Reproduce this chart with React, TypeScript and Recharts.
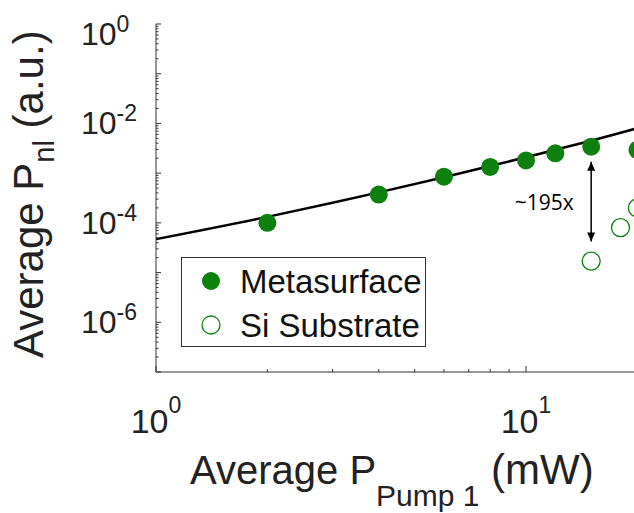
import { ComposedChart, Scatter, Line, XAxis, YAxis, ReferenceDot } from 'recharts'

// x values in mW, y values in a.u.
const metaX = [2, 4, 6, 8, 10, 12, 15, 20]
const metaY = [1.0e-4, 3.7e-4, 8.5e-4, 1.33e-3, 1.8e-3, 2.5e-3, 3.4e-3, 2.95e-3]
const siX = [15, 18, 20]
const siY = [1.7e-5, 8.0e-5, 2.0e-4]
const fitX = [1, 2, 3, 4, 6, 8, 10, 12, 15, 20]
const fitY = [4.7e-5, 1.32e-4, 2.53e-4, 4.1e-4, 8.3e-4, 1.39e-3, 2.09e-3, 2.95e-3, 4.5e-3, 8.0e-3]
const arrowX = [15, 15]
const arrowY = [1.7e-3, 4.2e-5]
const seriesNames = ['Metasurface', 'Si Substrate']

const xTicks = [1, 2, 3, 4, 5, 6, 7, 8, 9, 10]
const xLabeled = [1, 10]
const yDecades = [1e-7, 1e-6, 1e-5, 1e-4, 1e-3, 1e-2, 1e-1, 1]
const yLabeled = [1e-6, 1e-4, 1e-2, 1]
const mantissas = [2, 3, 4, 5, 6, 7, 8, 9]

const metaData = metaX.map((x, i) => ({ x, y: metaY[i] }))
const siData = siX.map((x, i) => ({ x, y: siY[i] }))
const fitData = fitX.map((x, i) => ({ x, y: fitY[i] }))
const arrowData = arrowX.map((x, i) => ({ x, y: arrowY[i] }))
const yTicks = [
  ...yDecades,
  ...yDecades.slice(0, -1).flatMap((d) => mantissas.map((m) => m * d)),
].sort((a, b) => a - b)

const GREEN = '#0d800d'
const AX = '#333'
const FONT = 'Liberation Sans, Arial, sans-serif'
const LEFT = 156
const TOP = 24
const BOTTOM = 372
const R = 9

const isMajor = (v: number, list: number[]) => list.some((t) => Math.abs(t - v) / t < 1e-6)
const exp = (v: number) => Math.round(Math.log10(v))

function BottomTick({ x, payload }: any) {
  const v = payload.value
  const major = isMajor(v, xLabeled)
  return (
    <g>
      <line x1={x} x2={x} y1={BOTTOM} y2={BOTTOM - (major ? 6 : 3)} stroke={AX} />
      {major && (
        <text x={x} y={433} textAnchor="middle" fontSize={34} fill="#222" fontFamily={FONT}>
          10<tspan dy={-20} fontSize={23}>{exp(v)}</tspan>
        </text>
      )}
    </g>
  )
}

function TopTick({ x, payload }: any) {
  const major = isMajor(payload.value, xLabeled)
  return <line x1={x} x2={x} y1={TOP} y2={TOP + (major ? 6 : 3)} stroke={AX} />
}

function LeftTick({ y, payload }: any) {
  const v = payload.value
  const decade = isMajor(v, yDecades)
  const labeled = isMajor(v, yLabeled)
  const e = exp(v)
  return (
    <g>
      <line x1={LEFT} x2={LEFT + (decade ? 5 : 2.5)} y1={y} y2={y} stroke={AX} />
      {labeled && (
        <text x={81} y={y + 11 + (e === 0 ? 10 : 0)} fontSize={32} fill="#222" fontFamily={FONT}>
          10<tspan dy={-13} fontSize={23}>{e}</tspan>
        </text>
      )}
    </g>
  )
}

function XLabel() {
  return (
    <text x={190} y={484} fontSize={40} fill="#222" fontFamily={FONT}>
      Average P<tspan dy={22} fontSize={30}>Pump 1</tspan>
      <tspan dy={-22} fontSize={42}> (mW)</tspan>
    </text>
  )
}

function YLabel() {
  return (
    <text transform="rotate(-90)" x={-358} y={43} fontSize={42} fill="#222" fontFamily={FONT}>
      Average P<tspan dy={11} fontSize={29}>nl</tspan>
      <tspan dy={-11}> (a.u.)</tspan>
    </text>
  )
}

function Dot({ cx, cy }: any) {
  return <circle cx={cx} cy={cy} r={R} fill={GREEN} />
}

function Ring({ cx, cy }: any) {
  return <circle cx={cx} cy={cy} r={R} fill="none" stroke={GREEN} strokeWidth={1.3} />
}

function ArrowHead({ cx, cy, index }: any) {
  const d = index === 0 ? -1 : 1
  return (
    <path
      key={index}
      d={`M${cx},${cy} L${cx - 4},${cy - d * 9} L${cx + 4},${cy - d * 9} Z`}
      fill="#000"
    />
  )
}

function LegendBox() {
  return (
    <div
      style={{
        position: 'absolute',
        left: 181,
        top: 257,
        width: 245,
        height: 90,
        boxSizing: 'border-box',
        border: '1px solid #333',
        background: '#fff',
      }}
    >
      <svg width={243} height={88} style={{ display: 'block' }}>
        {seriesNames.map((name, i) => (
          <g key={name}>
            {i === 0 ? (
              <circle cx={29} cy={23 + i * 44} r={R} fill={GREEN} />
            ) : (
              <circle cx={29} cy={23 + i * 44} r={R} fill="none" stroke={GREEN} strokeWidth={1.3} />
            )}
            <text x={58} y={35 + i * 44} fontSize={33} fill="#111" fontFamily={FONT}>
              {name}
            </text>
          </g>
        ))}
      </svg>
    </div>
  )
}

export default function App() {
  return (
    <div style={{ position: 'absolute', left: 0, top: 0, width: 634, height: 513, background: '#fff' }}>
      <ComposedChart width={634} height={513} margin={{ top: TOP, right: 0, bottom: 0, left: 0 }}>
        <XAxis
          xAxisId={0}
          dataKey="x"
          type="number"
          scale="log"
          domain={[1, 19.58]}
          allowDataOverflow
          ticks={xTicks}
          interval={0}
          height={141}
          stroke={AX}
          tickLine={false}
          tick={<BottomTick />}
          label={<XLabel />}
        />
        <XAxis
          xAxisId="top"
          orientation="top"
          dataKey="x"
          type="number"
          scale="log"
          domain={[1, 19.58]}
          allowDataOverflow
          ticks={xTicks}
          interval={0}
          height={0}
          stroke={AX}
          tickLine={false}
          tick={<TopTick />}
        />
        <YAxis
          dataKey="y"
          type="number"
          scale="log"
          domain={[1e-7, 1]}
          allowDataOverflow
          ticks={yTicks}
          interval={0}
          width={LEFT}
          stroke={AX}
          tickLine={false}
          tick={<LeftTick />}
          label={<YLabel />}
        />
        <Line
          data={fitData}
          dataKey="y"
          type="monotone"
          stroke="#000"
          strokeWidth={2.5}
          dot={false}
          activeDot={false}
          isAnimationActive={false}
          legendType="none"
        />
        <Scatter data={metaData} dataKey="y" name={seriesNames[0]} shape={<Dot />} isAnimationActive={false} />
        <Scatter data={siData} dataKey="y" name={seriesNames[1]} shape={<Ring />} isAnimationActive={false} />
        <Line
          data={arrowData}
          dataKey="y"
          type="linear"
          stroke="#000"
          strokeWidth={1.5}
          dot={<ArrowHead />}
          activeDot={false}
          isAnimationActive={false}
          legendType="none"
        />
        <ReferenceDot
          x={11.2}
          y={2.55e-4}
          r={0}
          stroke="none"
          label={{ value: '~195x', position: 'center', fontSize: 21, fill: '#000', fontFamily: 'Open Sans, sans-serif' }}
        />
      </ComposedChart>
      <LegendBox />
    </div>
  )
}
